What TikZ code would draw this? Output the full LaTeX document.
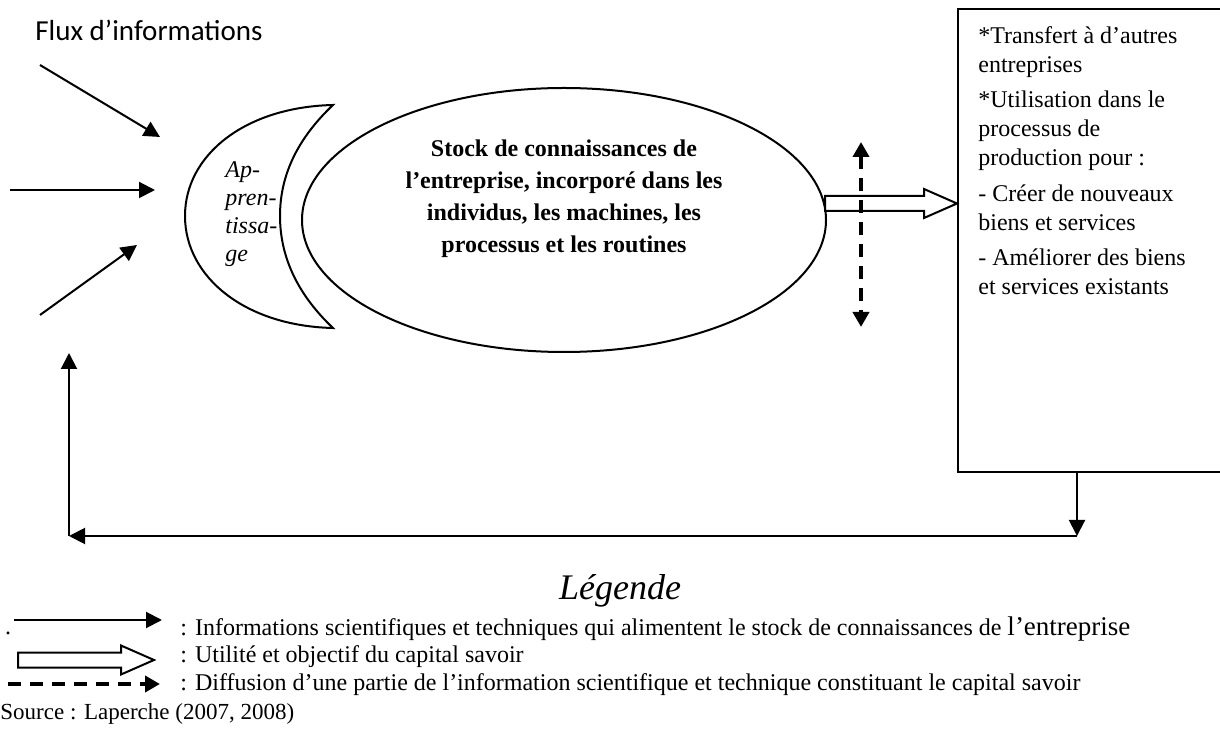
\documentclass[tikz,border=0pt]{standalone}
\usepackage{fontspec}
\setmainfont{Liberation Serif}
\newfontfamily\calibri{Carlito}
\usepackage{tikz}
\usetikzlibrary{arrows.meta,shapes.geometric,calc,positioning}

% hollow arrow between two named coordinates
\newcommand{\hollowarrow}[2]{%
  \draw[line width=1pt,fill=white,line join=miter]
    ($(#1)+(0,-7.5)$) -- ($(#2)+(-33,-7.5)$) -- ($(#2)+(-33,-14.5)$) -- (#2)
    -- ($(#2)+(-33,14.5)$) -- ($(#2)+(-33,7.5)$) -- ($(#1)+(0,7.5)$) -- cycle;}

\begin{document}
\begin{tikzpicture}[x=0.5pt,y=-0.5pt,>={Triangle[length=8pt,width=8pt]},
    info/.style={line width=1pt,->},
    diffus/.style={line width=2pt,dash pattern=on 6.5pt off 4.5pt,>={Triangle[length=7.5pt,width=8pt]}},
    legtxt/.style={anchor=west,font=\fontsize{12}{14}\selectfont},
    every node/.style={inner sep=0pt}]
  \useasboundingbox (0,0) rectangle (1220,731);
  \clip (0,0) rectangle (1220,731);

  % flux entrants
  \node[anchor=west,font=\calibri\fontsize{14.5}{16}\selectfont] (flux) at (35,30) {Flux d’informations};
  \coordinate (f1) at (40,65);  \coordinate (t1) at (160,137);
  \coordinate (f2) at (10,190); \coordinate (t2) at (155,190);
  \coordinate (f3) at (40,315); \coordinate (t3) at (137,245);
  \draw[info] (f1) -- (t1);
  \draw[info] (f2) -- (t2);
  \draw[info] (f3) -- (t3);

  % croissant apprentissage
  \draw[line width=1pt] (333,105) .. controls (245,107) and (185,155) .. (185,216)
    .. controls (185,277) and (245,326) .. (333,328)
    .. controls (296,293) and (280,255) .. (280,216)
    .. controls (280,177) and (296,140) .. (333,105) -- cycle;
  \node[anchor=west,align=left,font=\itshape\fontsize{12}{14}\selectfont] (appr) at (225,214) {Ap-\\pren-\\tissa-\\ge};

  % stock
  \node[draw,ellipse,line width=1pt,minimum width=262pt,minimum height=132pt] (stock) at (564,220) {};
  \node[align=center,font=\bfseries\fontsize{12}{16}\selectfont] (stocktxt) at (564,199)
    {Stock de connaissances de\\l’entreprise, incorporé dans les\\individus, les machines, les\\processus et les routines};

  % usages
  \node[draw,line width=1pt,anchor=north west,minimum width=140pt,minimum height=231.5pt] (usage) at (957,8) {};
  \node[anchor=north west,align=left,font=\fontsize{12}{14.5}\selectfont] (usagetxt) at (978,26)
    {*Transfert à d’autres\\entreprises\\[3.25pt]*Utilisation dans le\\processus de\\production pour :\\[3.25pt]- Créer de nouveaux\\biens et services\\[3.25pt]- Améliorer des biens\\et services existants};

  \coordinate (h0) at (825,203.5);
  \coordinate (h1) at (usage.west |- h0);
  \hollowarrow{h0}{h1}

  \coordinate (d0) at (861,142); \coordinate (d1) at (861,327);
  \draw[diffus,<->] (d0) -- (d1);

  % retour
  \coordinate (fb1) at (1077,536); \coordinate (fb2) at (69,536); \coordinate (fb3) at (69,353);
  \draw[info] (usage.south -| fb1) -- (fb1);
  \draw[info] (fb1) -- (fb2);
  \draw[info] (fb2) -- (fb3);

  % legende
  \node[font=\itshape\fontsize{18}{20}\selectfont] (leg) at (620,591) {Légende};
  \coordinate (l1a) at (14,620); \coordinate (l1b) at (162,620);
  \draw[info] (l1a) -- (l1b);
  \node[anchor=base,font=\fontsize{12}{14}\selectfont] (dot) at (8,634) {.};
  \node[legtxt] (l1txt) at (180,629)
    {: Informations scientifiques et techniques qui alimentent le stock de connaissances de {\fontsize{13.5}{15}\selectfont l’entreprise}};
  \coordinate (l2a) at (18,660); \coordinate (l2b) at (154,660);
  \hollowarrow{l2a}{l2b}
  \node[legtxt] (l2txt) at (180,657) {: Utilité et objectif du capital savoir};
  \coordinate (l3a) at (8,684); \coordinate (l3b) at (160,684);
  \draw[diffus,->] (l3a) -- (l3b);
  \node[legtxt] (l3txt) at (180,685)
    {: Diffusion d’une partie de l’information scientifique et technique constituant le capital savoir};
  \node[anchor=west,font=\fontsize{11.5}{13}\selectfont] (src) at (0,714) {Source : Laperche (2007, 2008)};
\end{tikzpicture}
\end{document}
